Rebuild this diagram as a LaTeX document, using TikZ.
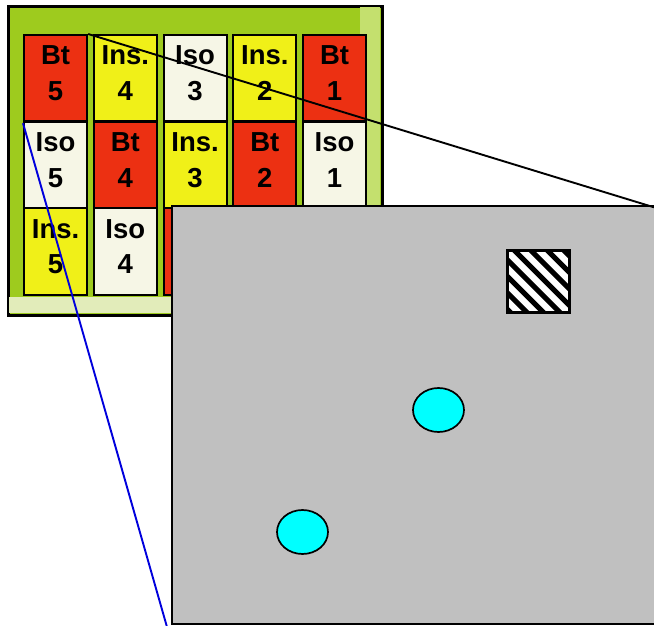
\documentclass[tikz,border=0pt]{standalone}
\usepackage{fontspec}
\setmainfont{Liberation Sans}
\usetikzlibrary{calc,shapes.geometric}
\definecolor{frameG}{RGB}{158,203,30}
\definecolor{frameL}{RGB}{196,224,110}
\definecolor{frameP}{RGB}{226,236,186}
\definecolor{cRed}{RGB}{236,48,18}
\definecolor{cYel}{RGB}{240,240,24}
\definecolor{cWht}{RGB}{246,246,230}
\definecolor{panelgray}{RGB}{192,192,192}
\definecolor{dotcyan}{RGB}{0,255,255}
\definecolor{lineblue}{RGB}{0,0,220}
\tikzset{
  framebox/.style={draw=black, line width=2pt, fill=frameG, minimum width=373pt, minimum height=308pt, inner sep=0pt, anchor=north west},
  cell/.style={draw=black, line width=2.2pt, minimum width=63pt, minimum height=87pt, inner sep=0pt, anchor=north west},
  lbl/.style={font=\bfseries\fontsize{27.5}{30}\selectfont, anchor=base, inner sep=0pt},
  panelbox/.style={draw=black, line width=1.8pt, fill=panelgray, minimum width=520pt, minimum height=418pt, inner sep=0pt, anchor=north west},
  dotnode/.style={ellipse, draw=black, line width=1.7pt, fill=dotcyan, minimum width=51pt, minimum height=44pt, inner sep=0pt},
  hatchbox/.style={draw=black, line width=1.8pt, fill=white, minimum size=61pt, inner sep=0pt},
  zoomline/.style={line width=1.9pt}
}
\begin{document}
\begin{tikzpicture}[x=1pt,y=-1pt]
\useasboundingbox (0,0) rectangle (654,626);
\clip (0,0) rectangle (654,626);
% frame
\node[framebox] (frame) at (8,6) {};
\fill[frameL] (360,7) rectangle (380,313);
\fill[frameP] (9,297) rectangle (380,313);
\draw[line width=2pt] (frame.north west) rectangle (frame.south east);
% cells
\foreach \c/\r/\f/\a/\b in {
  1/1/cRed/Bt/5, 2/1/cYel/Ins./4, 3/1/cWht/Iso/3, 4/1/cYel/Ins./2, 5/1/cRed/Bt/1,
  1/2/cWht/Iso/5, 2/2/cRed/Bt/4, 3/2/cYel/Ins./3, 4/2/cRed/Bt/2, 5/2/cWht/Iso/1,
  1/3/cYel/Ins./5, 2/3/cWht/Iso/4}{
  \node[cell, fill=\f] (c\c\r) at ({23+(\c-1)*69.75},{34+(\r-1)*86.5}) {};
  \node[lbl] (t\c\r a) at ($(c\c\r.north)+(0,31)$) {\a};
  \node[lbl] (t\c\r b) at ($(c\c\r.north)+(0,66.5)$) {\b};
}
\node[cell, fill=cRed] (c33) at (162.5,207) {};
% panel
\node[panelbox] (zoom) at (171,205) {};
\node[hatchbox] (hatch) at (538.5,281.5) {};
\begin{scope}
  \clip (hatch.south west) rectangle (hatch.north east);
  \foreach \k in {-5,...,5}
    \draw[line width=5pt] ($(hatch.center)+({7+\k*16.5},0)+(-45,-45)$) -- ++(90,90);
\end{scope}
\draw[line width=1.8pt] (hatch.north west) rectangle (hatch.south east);
\node[dotnode] (d1) at (438.5,410) {};
\node[dotnode] (d2) at (302.5,532) {};
% zoom lines
\coordinate (zr) at (654,207.3);
\coordinate (zb) at (167,627);
\draw[zoomline, black] (c11.north east) -- (zr);
\draw[zoomline, lineblue] (c11.south west) -- (zb);
\end{tikzpicture}
\end{document}
